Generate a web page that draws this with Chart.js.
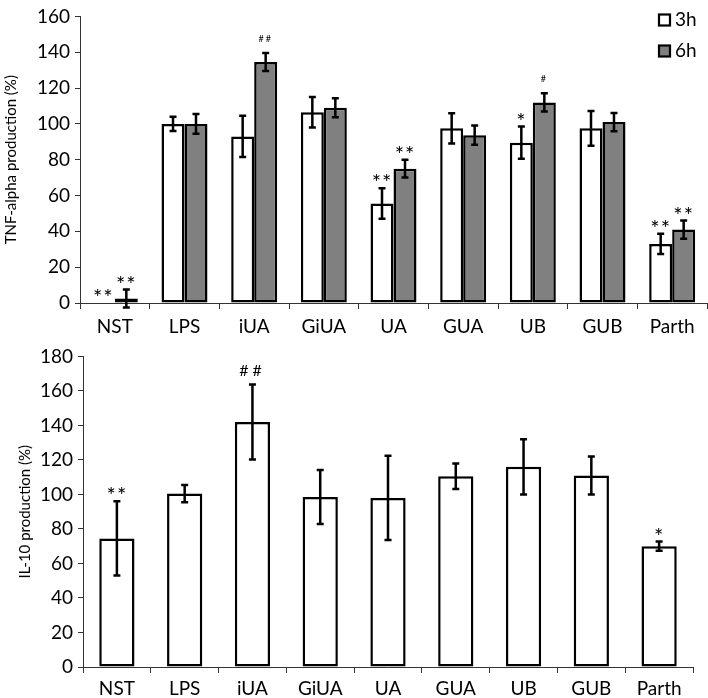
<!doctype html>
<html lang="en">
<head>
<meta charset="utf-8">
<title>TNF-alpha and IL-10 production</title>
<style>
  * { margin: 0; padding: 0; }
  body { width: 708px; height: 698px; background: #fff; overflow: hidden; }
  .box { position: absolute; left: 0; width: 708px; }
  #top { top: 0; height: 340px; }
  #bottom { top: 340px; height: 358px; }
</style>
</head>
<body>
<div class="box" id="top"><canvas id="tnfChart" width="708" height="340"></canvas></div>
<div class="box" id="bottom"><canvas id="il10Chart" width="708" height="358"></canvas></div>

<script src="https://cdn.jsdelivr.net/npm/chart.js"></script>
<script>
// data
const groups = ['NST', 'LPS', 'iUA', 'GiUA', 'UA', 'GUA', 'UB', 'GUB', 'Parth'];

// TNF-alpha (% of LPS)
const tnf3h    = [0, 100, 93, 106.5, 55.5, 97.5, 89.5, 97.5, 33];
const tnf3hErr = [0, 4, 11.5, 8.5, 8.5, 8.5, 9, 9.7, 5.7];
const tnf6h    = [2.5, 100, 134.5, 109, 75, 93.7, 112, 101, 41];
const tnf6hErr = [5, 5.5, 5, 5.3, 5, 5.4, 5.1, 5.1, 5.1];
const tnf3hMarks = ['**', '', '', '', '**', '', '*', '', '**'];
const tnf6hMarks = ['**', '', '##', '', '**', '', '#', '', '**'];

// IL-10 (% of LPS)
const il10    = [74.5, 100.5, 142, 98.5, 98, 110.5, 116, 111, 70];
const il10Err = [21.5, 5, 21.7, 15.6, 24.4, 7.4, 16, 11, 2.7];
const il10Marks = ['**', '', '##', '', '', '', '', '', '*'];

const FONT = 'Lato, "Open Sans", sans-serif';
Chart.defaults.font.family = FONT;
Chart.defaults.color = '#000';
Chart.defaults.animation = false;

// error bars + significance marks
const errorBars = {
  id: 'errorBars',
  afterDatasetsDraw(chart, args, opts) {
    const ctx = chart.ctx;
    const y = chart.scales.y;
    ctx.save();
    ctx.strokeStyle = '#000';
    ctx.fillStyle = '#000';
    ctx.lineWidth = 2.5;
    chart.data.datasets.forEach((ds, di) => {
      const meta = chart.getDatasetMeta(di);
      meta.data.forEach((bar, i) => {
        const v = ds.data[i];
        const e = opts.errors[di][i];
        const top = y.getPixelForValue(v + e);
        if (e > 0) {
          const bot = y.getPixelForValue(v - e);
          ctx.beginPath();
          ctx.moveTo(bar.x, bot); ctx.lineTo(bar.x, top);
          ctx.moveTo(bar.x - 3.5, top); ctx.lineTo(bar.x + 3.5, top);
          ctx.moveTo(bar.x - 3.5, bot); ctx.lineTo(bar.x + 3.5, bot);
          ctx.stroke();
        }
        const m = opts.marks[di][i];
        if (m) {
          const star = m.includes('*');
          const small = !star && opts.smallHash;
          ctx.font = (star ? '22px ' : small ? '9px ' : '16px ') + FONT;
          ctx.letterSpacing = star ? '1px' : small ? '2px' : '4px';
          ctx.textAlign = 'center';
          ctx.textBaseline = 'middle';
          ctx.fillText(m, bar.x, top - (star ? 5 : 14));
        }
      });
    });
    ctx.restore();
  }
};

// little square legend in the top right corner
const boxLegend = {
  id: 'boxLegend',
  afterDraw(chart, args, opts) {
    if (!opts.show) return;
    const ctx = chart.ctx;
    ctx.save();
    ctx.font = '19px ' + FONT;
    ctx.textBaseline = 'middle';
    ctx.textAlign = 'left';
    chart.data.datasets.forEach((ds, i) => {
      const yy = 20 + i * 31;
      ctx.fillStyle = ds.backgroundColor;
      ctx.fillRect(659, yy - 5.5, 11, 11);
      ctx.lineWidth = 2.2;
      ctx.strokeStyle = '#000';
      ctx.strokeRect(659, yy - 5.5, 11, 11);
      ctx.fillStyle = '#000';
      ctx.fillText(ds.label, 675, yy);
    });
    ctx.restore();
  }
};

function makeOptions(yMax, yTitle, yWidth, xHeight, catPct, pad, titlePad, xPad) {
  return {
    responsive: false,
    layout: { padding: pad },
    datasets: { bar: { categoryPercentage: catPct, barPercentage: 1 } },
    plugins: { legend: { display: false }, tooltip: { enabled: false } },
    scales: {
      x: {
        grid: { offset: true, drawOnChartArea: false, tickLength: 6, color: '#333' },
        border: { color: '#333', width: 1 },
        ticks: { font: { size: 19 }, padding: xPad },
        afterFit(s) { s.height = xHeight; }
      },
      y: {
        min: 0, max: yMax,
        grid: { drawOnChartArea: false, tickLength: 5, color: '#333' },
        border: { color: '#333', width: 1 },
        ticks: { stepSize: 20, font: { size: 19 }, padding: 5 },
        title: { display: true, text: yTitle, font: { size: 15 }, padding: titlePad },
        afterFit(s) { s.width = yWidth; }
      }
    }
  };
}

const tnfOptions = makeOptions(160, 'TNF-alpha production (%)', 80, 37, 0.66,
  { top: 8, right: 1 }, { top: 2, bottom: 0 }, 6);
tnfOptions.plugins.errorBars = { errors: [tnf3hErr, tnf6hErr], marks: [tnf3hMarks, tnf6hMarks], smallHash: true };
tnfOptions.plugins.boxLegend = { show: true };

new Chart(document.getElementById('tnfChart'), {
  type: 'bar',
  data: {
    labels: groups,
    datasets: [
      { label: '3h', data: tnf3h, backgroundColor: '#ffffff', borderColor: '#000', borderWidth: 2.5, borderSkipped: false },
      { label: '6h', data: tnf6h, backgroundColor: '#808080', borderColor: '#000', borderWidth: 2.5, borderSkipped: false }
    ]
  },
  options: tnfOptions,
  plugins: [errorBars, boxLegend]
});

const il10Options = makeOptions(180, 'IL-10 production (%)', 83, 31, 0.52,
  { top: 15, right: 15 }, { top: 16, bottom: 0 }, 4);
il10Options.plugins.errorBars = { errors: [il10Err], marks: [il10Marks], smallHash: false };
il10Options.plugins.boxLegend = { show: false };

new Chart(document.getElementById('il10Chart'), {
  type: 'bar',
  data: {
    labels: groups,
    datasets: [
      { label: 'IL-10', data: il10, backgroundColor: '#ffffff', borderColor: '#000', borderWidth: 2.5, borderSkipped: false }
    ]
  },
  options: il10Options,
  plugins: [errorBars, boxLegend]
});
</script>
</body>
</html>
